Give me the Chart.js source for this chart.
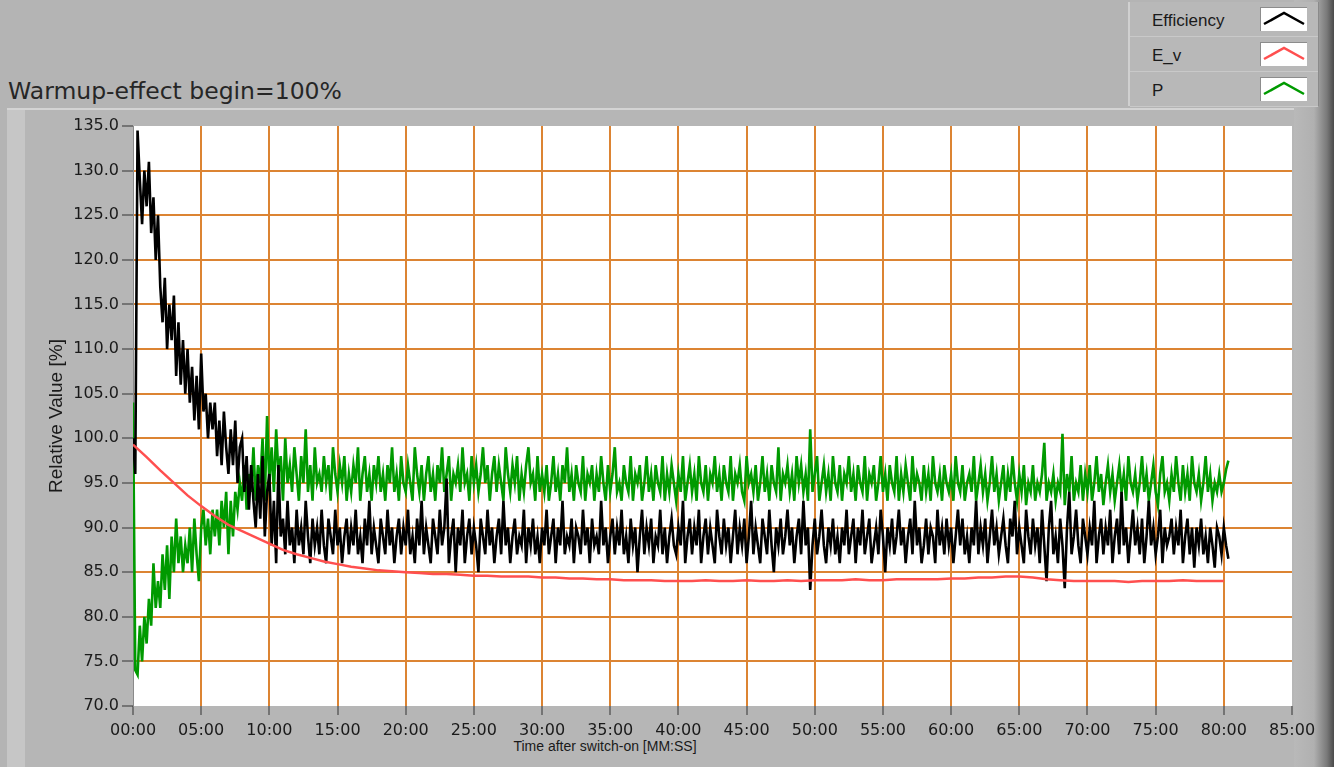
<!DOCTYPE html>
<html>
<head>
<meta charset="utf-8">
<script src="https://cdn.jsdelivr.net/npm/chart.js"></script>
<style>
  html, body { margin: 0; padding: 0; }
  body { width: 1334px; height: 767px; background: #b4b4b4; position: relative; overflow: hidden; font-family: "DejaVu Sans", sans-serif; }
  #panel { position: absolute; left: 7px; top: 108px; right: 0; bottom: 0; background: #b6b6b6; border-top: 2px solid #d4d4d4; }
  #panel .strip { position: absolute; left: 0; top: 0; width: 18px; bottom: 0; background: #c6c6c6; }
  #edge { position: absolute; top: 0; right: 0; width: 40px; bottom: 0; background: linear-gradient(to right, #b9b9b9 0%, #b0b0b0 50%, #7a7a7a 82%, #4a4a4a 100%); }
  #title { position: absolute; left: 8px; top: 77px; font-size: 23.5px; color: #262626; white-space: nowrap; }
  #xtitle { position: absolute; left: 0; width: 1210px; top: 738px; text-align: center; font: 14px "Liberation Sans", sans-serif; color: #1a1a1a; }
  #legend { position: absolute; left: 1128px; top: 2px; width: 188px; height: 104px; background: #b8b8b8; border-left: 2px solid #d0d0d0; border-right: 1px solid #8a8a8a; }
  .row { position: relative; height: 34px; border-bottom: 1px solid #c9c9c9; }
  .row span { position: absolute; left: 22px; top: 9px; font: 17px "Liberation Sans", sans-serif; color: #1a1a1a; }
  .row svg { position: absolute; left: 130px; top: 5px; background: #fff; border-top: 1px solid #8c8c8c; border-left: 1px solid #8c8c8c; }
  canvas { position: absolute; left: 0; top: 0; }
</style>
</head>
<body>
<div id="panel"><div class="strip"></div></div>
<div id="edge"></div>
<div id="legend"></div>
<div id="title">Warmup-effect begin=100%</div>
<div id="xtitle">Time after switch-on [MM:SS]</div>
<canvas id="warmupChart" width="1334" height="767"></canvas>
<script>
// Efficiency and P are logged every 10 s (1/6 min), one row = 2 minutes
const sampleStep = 1 / 6;

const efficiency = [
  100, 96, 134.5, 129, 124, 130, 126, 131, 123, 127, 120, 125,
  117, 113, 118, 110, 115, 111, 116, 107, 113, 106, 111, 105,
  110, 104, 108, 102, 107, 101, 109.5, 103, 105, 100, 104, 101,
  104, 98, 102, 97, 103, 99, 96, 101, 97, 102, 95, 99,
  100, 94, 98, 92, 97, 93, 90, 96, 91, 98, 89, 94,
  96, 88, 93, 86, 97, 89, 91, 87, 93, 88, 90, 86,
  92, 88, 90, 87, 93, 89, 86, 91, 88, 90, 87, 92,
  88, 86, 91, 89, 87, 92, 88, 90, 86, 89, 91, 87,
  90, 88, 92, 87, 89, 86, 91, 88, 93, 87, 90, 88,
  86, 91, 89, 87, 92, 88, 90, 86, 89, 91, 87, 90,
  88, 92, 87, 89, 86, 91, 88, 93, 87, 90, 88, 86,
  91, 89, 87, 92, 88, 90, 95.5, 86, 89, 91, 85, 90,
  88, 92, 86, 89, 91, 87, 90, 88, 85, 91, 89, 87,
  92, 88, 90, 86, 89, 91, 87, 93, 88, 90, 86, 89,
  91, 87, 89, 88, 92, 86, 90, 88, 91, 87, 89, 86,
  90, 88, 92, 87, 89, 91, 86, 90, 88, 93, 87, 89,
  88, 91, 86, 90, 89, 87, 92, 88, 90, 86, 91, 88,
  89, 87, 93, 88, 90, 86, 89, 91, 87, 90, 88, 92,
  87, 89, 86, 91, 88, 90, 85, 89, 92, 87, 90, 88,
  91, 86, 89, 88, 92, 87, 90, 86, 89, 91, 88, 87,
  90, 88, 93, 86, 89, 91, 87, 90, 88, 92, 86, 89,
  91, 87, 90, 88, 86, 92, 89, 87, 91, 88, 90, 86,
  89, 92, 87, 90, 88, 91, 86, 89, 93, 87, 90, 88,
  86, 91, 89, 87, 92, 88, 85, 90, 88, 91, 87, 89,
  92, 88, 90, 86, 89, 91, 87, 93, 88, 90, 83, 88,
  91, 87, 89, 92, 88, 86, 90, 88, 91, 87, 89, 86,
  90, 88, 92, 87, 89, 91, 86, 90, 88, 92, 87, 89,
  91, 86, 88, 90, 87, 92, 89, 85, 90, 88, 91, 87,
  89, 92, 88, 90, 86, 89, 91, 87, 93, 88, 90, 86,
  88, 91, 87, 90, 89, 86, 92, 88, 90, 87, 91, 88,
  90, 86, 89, 92, 88, 91, 87, 89, 86, 90, 88, 93,
  87, 90, 88, 91, 86, 89, 92, 88, 90, 87, 89, 91,
  88, 86, 91, 89, 93, 87, 90, 88, 86, 92, 89, 87,
  91, 88, 90, 86, 92, 88, 84, 90, 93, 87, 89, 86,
  91, 88, 83.2, 90, 94, 87, 89, 92, 88, 86, 91, 89,
  87, 90, 88, 93, 86, 89, 91, 87, 90, 88, 92, 86,
  89, 91, 87, 94, 88, 90, 86, 89, 92, 88, 90, 87,
  91, 86, 89, 93, 88, 90, 87, 89, 92, 86, 90, 88,
  89, 91, 87, 90, 88, 92, 86, 89, 91, 87, 90, 85.5,
  90, 88, 91, 87, 89, 86, 90, 88, 85.5, 90, 89, 87,
  90, 88, 86.5
];

const power = [
  104, 74, 73.5, 79, 75, 80, 77, 82, 79, 86, 81, 84,
  81, 87, 83, 88, 82, 89, 85, 91, 86, 89, 85, 88,
  86, 90, 85, 91, 87, 84, 90, 92, 88, 91, 87, 92,
  89, 92, 88, 93, 90, 94, 87, 93, 89, 94, 92, 95,
  93, 97, 92, 96, 94, 99, 93, 97, 95, 100, 93, 102.5,
  95, 99, 94, 101, 96, 98, 93, 100, 95, 97, 94, 99,
  96, 93, 98, 95, 101, 94, 97, 93, 99, 95, 96, 94,
  98, 95, 97, 93, 99, 96, 94, 97, 95, 98, 93, 96,
  94, 97, 95, 99, 93, 96, 98, 94, 96, 93, 97, 95,
  98, 94, 96, 93, 97, 95, 99, 94, 96, 93, 98, 95,
  94, 97, 95, 93, 99, 96, 94, 97, 93, 96, 98, 94,
  96, 93, 97, 95, 99, 94, 96, 98, 93, 96, 95, 97,
  94, 99, 95, 96, 93, 98, 95, 97, 94, 96, 99, 95,
  97, 93, 96, 98, 94, 97, 95, 93, 99, 96, 94, 97,
  95, 98, 93, 96, 94, 97, 99, 95, 96, 93, 98, 94,
  96, 94, 97, 93, 95, 98, 94, 96, 93, 97, 95, 99,
  94, 96, 93, 97, 95, 94, 98, 93, 96, 95, 97, 93,
  96, 94, 98, 95, 93, 97, 94, 96, 99, 94, 95, 93,
  97, 95, 94, 98, 93, 96, 95, 97, 93, 95, 98, 94,
  96, 93, 97, 95, 94, 98, 93, 96, 94, 97, 95, 93,
  96, 94, 98, 93, 95, 97, 94, 96, 93, 98, 95, 94,
  97, 93, 96, 95, 98, 94, 96, 93, 97, 95, 94, 98,
  93, 96, 95, 97, 94, 93, 98, 95, 96, 94, 97, 93,
  95, 98, 94, 96, 93, 97, 95, 94, 99, 93, 96, 95,
  97, 94, 96, 93, 98, 95, 97, 94, 96, 93, 101, 94,
  96, 98, 93, 95, 97, 94, 96, 93, 98, 95, 94, 97,
  93, 96, 95, 98, 94, 96, 93, 97, 95, 94, 98, 93,
  96, 95, 97, 93, 95, 98, 94, 96, 93, 97, 95, 94,
  98, 93, 96, 94, 97, 95, 93, 98, 94, 96, 95, 93,
  97, 94, 96, 93, 98, 95, 94, 96, 93, 97, 95, 94,
  96, 93, 98, 95, 94, 97, 93, 95, 96, 94, 98, 93,
  95, 97, 94, 96, 93, 95, 98, 94, 96, 93, 95, 97,
  93, 96, 94, 98, 95, 93, 96, 94, 97, 92.5, 95, 94,
  97, 93, 95, 94, 96, 99.5, 93, 95, 94, 96, 93, 95,
  94, 100.5, 92.5, 96, 94, 98, 93, 95, 94, 97, 93, 96,
  94, 97, 93, 95, 98, 94, 96, 92.5, 95, 97, 94, 96,
  93, 95, 97, 94, 96, 93, 98, 95, 94, 96, 93, 95,
  98, 94, 96, 93, 95, 97, 94, 92.5, 96, 98, 94, 95,
  93, 96, 94, 98, 95, 93, 97, 94, 96, 93, 98, 95,
  94, 96, 93, 95, 98, 94, 96, 93, 95, 94, 96, 94,
  95, 96.5, 97.5
];

// E_v, one value per minute (00:00 .. 80:00)
const eV = [
  99.3, 97.9, 96.4, 95.0, 93.6, 92.4, 91.3, 90.3, 89.6, 88.9,
  88.2, 87.5, 87.0, 86.6, 86.2, 85.9, 85.6, 85.4, 85.2, 85.1,
  85.0, 84.9, 84.8, 84.8, 84.7, 84.6, 84.6, 84.5, 84.5, 84.5,
  84.4, 84.4, 84.3, 84.3, 84.2, 84.2, 84.1, 84.1, 84.1, 84.0,
  84.0, 84.0, 84.1, 84.0, 84.0, 84.1, 84.0, 84.0, 84.1, 84.0,
  84.1, 84.1, 84.1, 84.2, 84.1, 84.1, 84.2, 84.2, 84.2, 84.2,
  84.3, 84.3, 84.4, 84.4, 84.5, 84.5, 84.4, 84.2, 84.1, 84.0,
  84.0, 84.0, 84.0, 83.9, 84.0, 84.0, 84.0, 84.1, 84.0, 84.0,
  84.0
];

const seriesNames = ['Efficiency', 'E_v', 'P'];
const seriesColors = ['#000000', '#ff4f4f', '#009a00'];

const yTicks = { min: 70, max: 135, step: 5 };
const xTicks = { min: 0, max: 85, step: 5 };   // minutes

function toPoints(values, step) {
  return values.map((v, i) => ({ x: i * step, y: v }));
}

function mmss(min) {
  return String(Math.round(min)).padStart(2, '0') + ':00';
}

// legend boxes (LabVIEW style)
const legend = document.getElementById('legend');
seriesNames.forEach((name, i) => {
  const row = document.createElement('div');
  row.className = 'row';
  row.innerHTML = '<span>' + name + '</span>' +
    '<svg width="46" height="23"><polyline points="3,16 23,5 43,16" fill="none" stroke="' +
    seriesColors[i] + '" stroke-width="2.5"/></svg>';
  legend.appendChild(row);
});

const plotBackground = {
  id: 'plotBackground',
  beforeDraw(chart) {
    const { ctx, chartArea: a } = chart;
    ctx.save();
    ctx.fillStyle = '#ffffff';
    ctx.fillRect(a.left, a.top, a.right - a.left, a.bottom - a.top);
    ctx.restore();
  }
};

const gridColor = '#dc8433';
const innerOnly = (lim) => (c) =>
  (c.tick && (c.tick.value === lim.min || c.tick.value === lim.max)) ? 'rgba(0,0,0,0)' : gridColor;

const ctx = document.getElementById('warmupChart').getContext('2d');
const warmupChart = new Chart(ctx, {
  type: 'line',
  data: {
    datasets: [
      {
        label: seriesNames[0],
        data: toPoints(efficiency, sampleStep),
        borderColor: seriesColors[0],
        borderWidth: 2.6,
        order: 1
      },
      {
        label: seriesNames[1],
        data: toPoints(eV, 1),
        borderColor: seriesColors[1],
        borderWidth: 2.5,
        order: 0
      },
      {
        label: seriesNames[2],
        data: toPoints(power, sampleStep),
        borderColor: seriesColors[2],
        borderWidth: 2.6,
        order: 2
      }
    ]
  },
  options: {
    responsive: false,
    animation: false,
    devicePixelRatio: 1,
    elements: { point: { radius: 0 }, line: { tension: 0, borderJoinStyle: 'miter' } },
    layout: { padding: { top: 126, right: 42, left: 0, bottom: 0 } },
    plugins: { legend: { display: false }, tooltip: { enabled: false } },
    scales: {
      x: {
        type: 'linear',
        min: xTicks.min,
        max: xTicks.max,
        afterFit(scale) { scale.height = 61; },
        ticks: {
          stepSize: xTicks.step,
          color: '#1a1a1a',
          font: { family: 'DejaVu Sans', size: 16 },
          padding: 6,
          maxRotation: 0,
          callback: (v) => mmss(v)
        },
        grid: { color: innerOnly(xTicks), lineWidth: 2, tickColor: '#333333', tickWidth: 1, tickLength: 9 },
        border: { display: false }
      },
      y: {
        min: yTicks.min,
        max: yTicks.max,
        afterFit(scale) { scale.width = 133; },
        ticks: {
          stepSize: yTicks.step,
          color: '#1a1a1a',
          font: { family: 'DejaVu Sans', size: 16 },
          padding: 3,
          callback: (v) => v.toFixed(1)
        },
        grid: { color: innerOnly(yTicks), lineWidth: 2, tickColor: '#333333', tickWidth: 1, tickLength: 11 },
        border: { display: true, color: '#8a8a8a', width: 1 },
        title: {
          display: true,
          text: 'Relative Value [%]',
          color: '#1a1a1a',
          font: { family: 'Liberation Sans', size: 19 },
          padding: { top: 45, bottom: 0 }
        }
      }
    }
  },
  plugins: [plotBackground]
});
</script>
</body>
</html>
